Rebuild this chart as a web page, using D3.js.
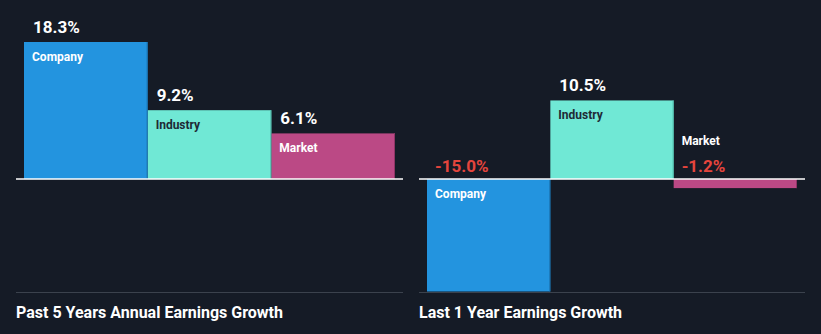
<!DOCTYPE html>
<html>
<head>
<meta charset="utf-8">
<script src="https://cdn.jsdelivr.net/npm/d3@7"></script>
<style>
  html, body { margin: 0; padding: 0; background: #151b26; }
  svg { display: block; font-family: Roboto, "Noto Sans", sans-serif; }
</style>
</head>
<body>
<svg id="chart" width="821" height="334"></svg>
<script>
// Earnings growth comparison: company vs industry vs market
const categories = ["Company", "Industry", "Market"];
const past5Years = [18.3, 9.2, 6.1];
const last1Year = [-15.0, 10.5, -1.2];
const panelTitles = ["Past 5 Years Annual Earnings Growth", "Last 1 Year Earnings Growth"];

const colors = { Company: "#2394df", Industry: "#70e8d5", Market: "#bb4985" };
const edgeColors = { Company: "#1a6fab", Industry: "#4fb7a8", Market: "#8e3566" };
const labelColors = { Company: "#ffffff", Industry: "#1e2a36", Market: "#ffffff" };

const svg = d3.select("#chart");
const W = 821, H = 334;
svg.append("rect").attr("width", W).attr("height", H).attr("fill", "#151b26");

const allValues = past5Years.concat(last1Year);
const y = d3.scaleLinear()
  .domain([d3.min(allValues), d3.max(allValues)])
  .range([291.5, 42]);

const panels = [
  { values: past5Years, title: panelTitles[0], barX: [24, 395], lineX: [16, 403] },
  { values: last1Year, title: panelTitles[1], barX: [427, 797], lineX: [419, 805] }
];

panels.forEach(p => {
  const g = svg.append("g");
  const x = d3.scaleBand().domain(categories).range(p.barX).padding(0);
  const data = categories.map((c, i) => ({ cat: c, v: p.values[i] }));
  const y0 = y(0);

  // bars
  g.selectAll("rect.bar").data(data).join("rect")
    .attr("class", "bar")
    .attr("x", d => x(d.cat))
    .attr("width", x.bandwidth())
    .attr("y", d => Math.min(y(d.v), y0))
    .attr("height", d => Math.abs(y(d.v) - y0))
    .attr("fill", d => colors[d.cat]);

  // thin darker edge on the right side of each bar
  g.selectAll("line.edge").data(data).join("line")
    .attr("class", "edge")
    .attr("x1", d => x(d.cat) + x.bandwidth() - 0.5)
    .attr("x2", d => x(d.cat) + x.bandwidth() - 0.5)
    .attr("y1", d => Math.min(y(d.v), y0))
    .attr("y2", d => Math.max(y(d.v), y0))
    .attr("stroke", d => edgeColors[d.cat])
    .attr("stroke-width", 1);

  // zero line
  g.append("line")
    .attr("x1", p.lineX[0]).attr("x2", p.lineX[1])
    .attr("y1", y0).attr("y2", y0)
    .attr("stroke", "#ffffff").attr("stroke-width", 1.5);

  data.forEach(d => {
    const tx = x(d.cat) + 8;
    const big = Math.abs(y(d.v) - y0) > 30;
    if (d.v >= 0) {
      g.append("text").attr("x", tx + 1).attr("y", y(d.v) - 9)
        .attr("fill", "#ffffff").attr("font-size", 17).attr("font-weight", 700)
        .text(d.v.toFixed(1) + "%");
      g.append("text").attr("x", tx).attr("y", y(d.v) + 19)
        .attr("fill", labelColors[d.cat]).attr("font-size", 12).attr("font-weight", 700)
        .text(d.cat);
    } else {
      g.append("text").attr("x", tx).attr("y", y0 - 7)
        .attr("fill", "#e5453d").attr("font-size", 17).attr("font-weight", 700)
        .text(d.v.toFixed(1) + "%");
      if (big) {
        g.append("text").attr("x", tx).attr("y", y0 + 19)
          .attr("fill", labelColors[d.cat]).attr("font-size", 12).attr("font-weight", 700)
          .text(d.cat);
      } else {
        g.append("text").attr("x", tx).attr("y", y0 - 34)
          .attr("fill", "#ffffff").attr("font-size", 12).attr("font-weight", 700)
          .text(d.cat);
      }
    }
  });

  // footer rule and title
  g.append("line")
    .attr("x1", p.lineX[0]).attr("x2", p.lineX[1])
    .attr("y1", 292.5).attr("y2", 292.5)
    .attr("stroke", "#3b424d").attr("stroke-width", 1);
  g.append("text")
    .attr("x", p.lineX[0]).attr("y", 318)
    .attr("fill", "#ffffff").attr("font-size", 16).attr("font-weight", 700)
    .text(p.title);
});
</script>
</body>
</html>
